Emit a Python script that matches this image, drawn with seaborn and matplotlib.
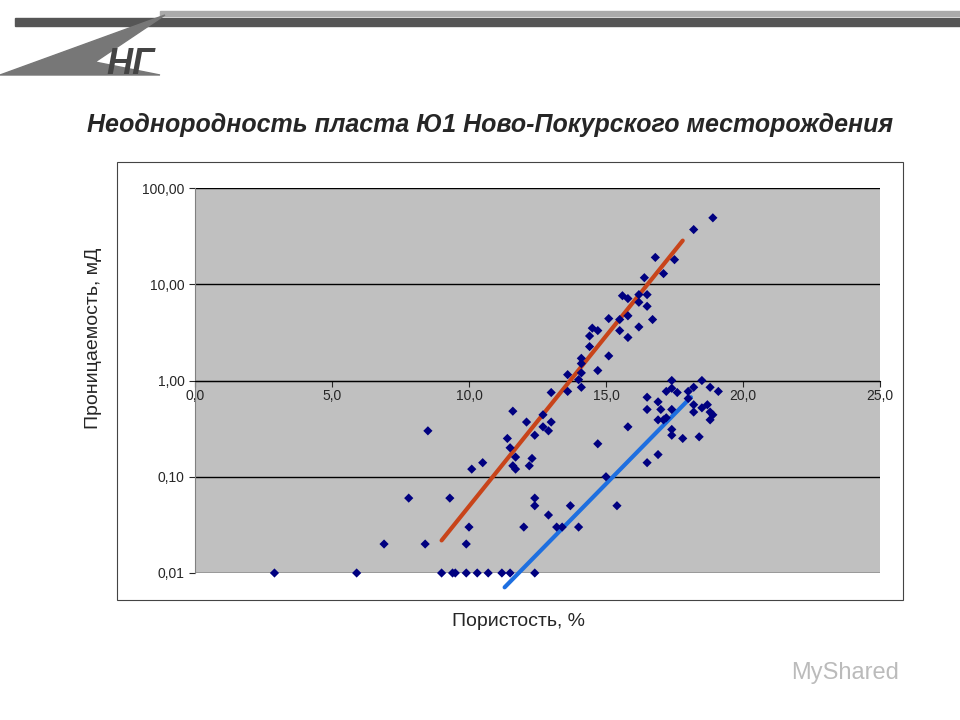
import matplotlib
matplotlib.use("Agg")
import matplotlib.pyplot as plt
import seaborn as sns
import pandas as pd
import numpy as np
from matplotlib.ticker import FixedLocator, FuncFormatter

porosity = [18.9,18.2,16.8,17.5,17.1,16.4,15.6,15.8,16.2,16.5,16.2,16.5,16.7,15.1,15.5,15.8,16.2,14.5,14.7,15.5,
            14.4,15.8,14.4,15.1,14.1,14.1,14.7,13.6,14.1,14.0,13.6,13.0,14.1,
            17.4,18.5,17.2,17.4,17.6,18.0,18.2,18.8,19.1,16.5,16.9,16.5,17.0,18.0,17.4,16.9,17.1,17.2,18.2,18.2,
            18.5,18.7,18.8,18.8,18.9,15.8,17.4,17.4,17.8,18.4,14.7,16.9,16.5,
            11.6,12.1,12.7,13.0,12.7,12.9,12.4,11.4,11.5,11.7,12.3,12.2,11.6,11.7,10.5,10.1,8.5,7.8,9.3,12.4,
            12.4,13.7,15.4,12.9,13.2,13.4,14.0,12.0,10.0,15.0,6.9,8.4,9.9,
            2.9,5.9,9.0,9.4,9.5,9.9,10.3,10.7,11.2,11.5,12.4]
permeability = [49,37,19,18,12.9,11.7,7.6,7.1,7.8,7.8,6.5,5.9,4.3,4.4,4.3,4.7,3.6,3.5,3.3,3.3,
                2.9,2.8,2.25,1.8,1.7,1.5,1.27,1.15,1.2,1.02,0.77,0.75,0.85,
                1.0,1.0,0.77,0.83,0.75,0.77,0.85,0.85,0.77,0.67,0.6,0.5,0.5,0.65,0.5,0.39,0.39,0.41,0.56,0.47,
                0.52,0.56,0.47,0.39,0.44,0.33,0.31,0.27,0.25,0.26,0.22,0.17,0.14,
                0.48,0.37,0.44,0.37,0.33,0.30,0.27,0.25,0.20,0.16,0.155,0.13,0.13,0.12,0.14,0.12,0.30,0.06,0.06,0.06,
                0.05,0.05,0.05,0.04,0.03,0.03,0.03,0.03,0.03,0.1,0.02,0.02,0.02,
                0.01,0.01,0.01,0.01,0.01,0.01,0.01,0.01,0.01,0.01,0.01]
trend_red_x = [9.0, 17.8]
trend_red_y = [0.0218, 28.4]
trend_blue_x = [11.3, 18.1]
trend_blue_y = [0.0071, 0.67]
x_ticks = [0, 5, 10, 15, 20, 25]
y_ticks = [0.01, 0.1, 1, 10, 100]

df = pd.DataFrame({"x": porosity, "y": permeability})

fig = plt.figure(figsize=(9.6, 7.2), dpi=100)
sns.set_style("white")
plt.rcParams['font.family'] = ['Liberation Sans', 'DejaVu Sans']

# header decorations
fig.add_artist(plt.Rectangle((15/960, 1-26/720), 945/960, 8/720, color="#555555", transform=fig.transFigure))
fig.add_artist(plt.Rectangle((160/960, 1-16/720), 800/960, 5/720, color="#aaaaaa", transform=fig.transFigure))
fig.add_artist(plt.Polygon([(0/960, 1-75/720), (165/960, 1-15/720), (95/960, 1-62/720), (160/960, 1-75/720)],
                           closed=True, color="#777777", transform=fig.transFigure))
fig.text(130/960, 1-65/720, "НГ", fontsize=26, fontweight="bold", style="italic", color="#444444",
         ha="center", va="center")
fig.text(490/960, 1-125/720, "Неоднородность пласта Ю1 Ново-Покурского месторождения",
         fontsize=18, fontweight="bold", style="italic", ha="center", va="center")
fig.text(845/960, 1-673/720, "MyShared", fontsize=17, color="#bbbbbb", ha="center", va="center")

# outer white box
fig.add_artist(plt.Rectangle((117/960, 1-600/720), 786/960, 438/720, fill=False, ec="#444444", lw=0.8,
                             transform=fig.transFigure))

ax = fig.add_axes([195/960, 1-573/720, 685/960, 385/720])
ax.set_facecolor("#c0c0c0")
ax.set_yscale("log")
ax.set_xlim(0, 25)
ax.set_ylim(0.01, 100)
for yv in y_ticks:
    ax.axhline(yv, color="black", lw=1, zorder=1)
ax.plot(trend_red_x, trend_red_y, color="#c8441a", lw=3, zorder=3, clip_on=False)
ax.plot(trend_blue_x, trend_blue_y, color="#1e6fe0", lw=3, zorder=3, clip_on=False)
sns.scatterplot(data=df, x="x", y="y", ax=ax, marker="D", s=22, color="#000080", edgecolor="none",
                zorder=4, clip_on=False)

for s in ["top", "right"]:
    ax.spines[s].set_visible(False)
ax.spines["left"].set_color("#808080")
ax.spines["bottom"].set_position(("data", 1))
ax.spines["bottom"].set_color("black")
ax.xaxis.set_major_locator(FixedLocator(x_ticks))
ax.xaxis.set_major_formatter(FuncFormatter(lambda v, p: f"{v:.1f}".replace(".", ",")))
ax.yaxis.set_major_locator(FixedLocator(y_ticks))
ax.yaxis.set_minor_locator(FixedLocator([]))
ax.yaxis.set_major_formatter(FuncFormatter(lambda v, p: f"{v:.2f}".replace(".", ",")))
ax.tick_params(axis="x", direction="out", length=4, labelsize=10, pad=2, bottom=True)
ax.tick_params(axis="y", direction="out", length=4, labelsize=10, left=True)
ax.set_xlabel("")
ax.set_ylabel("")
fig.text(93/960, 1-338/720, "Проницаемость, мД", rotation=90, fontsize=14, ha="center", va="center")
fig.text(518/960, 1-622/720, "Пористость, %", fontsize=14, ha="center", va="center")

fig.savefig("out.png", dpi=100)
